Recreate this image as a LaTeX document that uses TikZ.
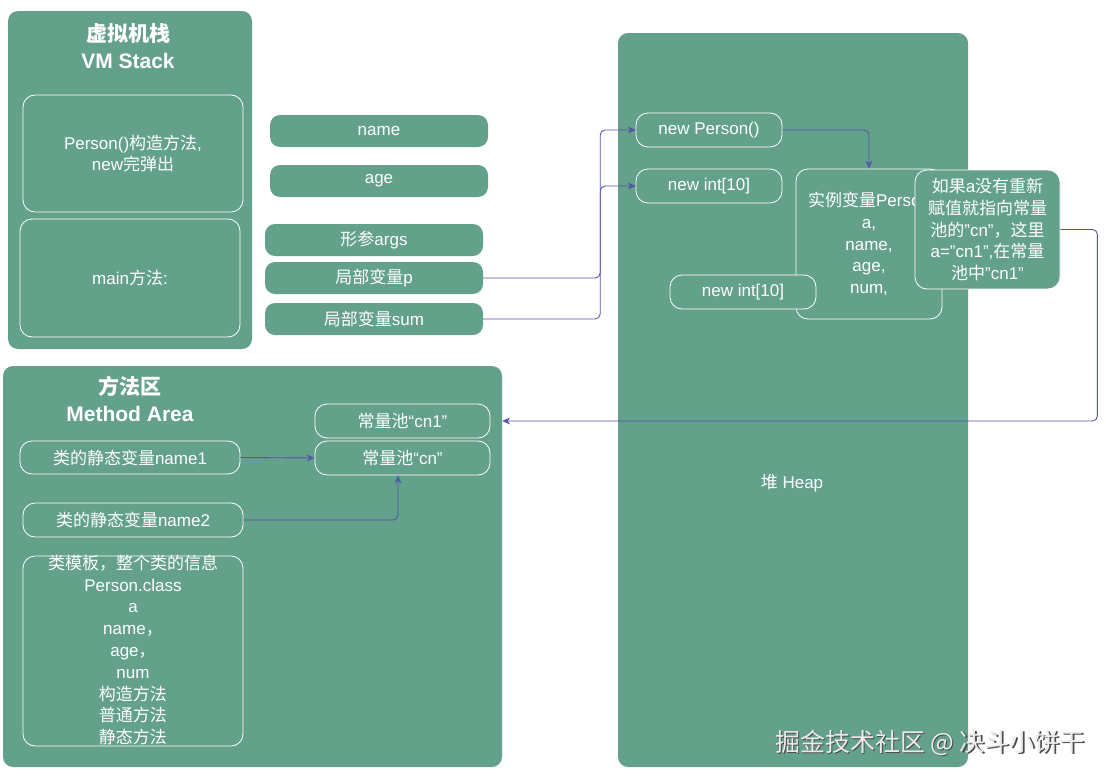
\documentclass[tikz,border=0pt]{standalone}
\usepackage{fontspec}
\setmainfont{Liberation Sans}
\newfontfamily\cjk{Noto Sans CJK SC}
\newcommand\zhs[1]{{\cjk #1}}
\usetikzlibrary{arrows.meta}
\definecolor{jvgreen}{RGB}{99,161,138}
\definecolor{jvarrow}{RGB}{84,84,170}
\tikzset{
  area/.style={fill=jvgreen, draw=none, rounded corners=10pt, inner sep=0pt},
  pill/.style={fill=jvgreen, draw=none, rounded corners=10pt, text=white, inner sep=0pt,
    font=\fontsize{17}{21.8}\selectfont},
  obox/.style={fill=jvgreen, draw=white, line width=0.8pt, rounded corners=12pt, text=white,
    inner sep=0pt, align=center, font=\fontsize{17}{21.8}\selectfont},
  title/.style={text=white, font=\fontsize{21}{27}\selectfont\bfseries, align=center},
  link/.style={draw=jvarrow, line width=0.9pt, rounded corners=5pt,
    -{Stealth[length=8pt,width=7pt]}}
}
\begin{document}
\begin{tikzpicture}[x=1pt,y=-1pt]
\useasboundingbox (0,0) rectangle (1106,779);
% VM stack
\node[area, minimum width=244pt, minimum height=338pt] (vm) at (130,180) {};
\node[title] (vmt) at (128,46) {\zhs{虚拟机栈}\\VM Stack};
\node[obox, minimum width=220pt, minimum height=117pt] (f1) at (133,153.5) {Person()\zhs{构造方法},\\new\zhs{完弹出}};
\node[obox, minimum width=220pt, minimum height=118pt] (f2) at (130,278) {main\zhs{方法}:};
% pills
\node[pill, minimum width=218pt, minimum height=32pt] (name) at (379,131) {name};
\node[pill, minimum width=218pt, minimum height=32pt] (age) at (379,181) {age};
\node[pill, minimum width=218pt, minimum height=32pt] (args) at (374,240) {\zhs{形参}args};
\node[pill, minimum width=218pt, minimum height=32pt] (p) at (374,278) {\zhs{局部变量}p};
\node[pill, minimum width=218pt, minimum height=32pt] (sum) at (374,319) {\zhs{局部变量}sum};
% Heap
\node[area, minimum width=350pt, minimum height=734pt] (heap) at (793,400) {};
\node[text=white, font=\fontsize{17}{21.8}\selectfont] (heapt) at (792,483) {\zhs{堆} Heap};
\node[obox, minimum width=146pt, minimum height=34pt] (newP) at (709,130) {new Person()};
\node[obox, minimum width=146pt, minimum height=34pt] (newI1) at (709,186) {new int[10]};
\node[obox, minimum width=146pt, minimum height=150pt] (inst) at (869,244) {\zhs{实例变量}Person\\a,\\name,\\age,\\num,};
\node[obox, minimum width=145pt, minimum height=119pt] (call) at (987.5,229.5) {\zhs{如果}a\zhs{没有重新}\\\zhs{赋值就指向常量}\\\zhs{池的}"cn"\zhs{，这里}\\a="cn1",\zhs{在常量}\\\zhs{池中}"cn1"};
\node[obox, minimum width=146pt, minimum height=34pt] (newI2) at (743,292) {new int[10]};
% Method area
\node[area, minimum width=499pt, minimum height=401pt] (ma) at (252.5,566.5) {};
\node[title] (mat) at (130,399) {\zhs{方法区}\\Method Area};
\node[obox, minimum width=175pt, minimum height=34pt] (cn1) at (402.5,421) {\zhs{常量池}“cn1”};
\node[obox, minimum width=175pt, minimum height=34pt] (cn) at (402.5,458) {\zhs{常量池}“cn”};
\node[obox, minimum width=220pt, minimum height=33pt] (s1) at (130,457.5) {\zhs{类的静态变量}name1};
\node[obox, minimum width=220pt, minimum height=34pt] (s2) at (133,520) {\zhs{类的静态变量}name2};
\node[obox, minimum width=220pt, minimum height=190pt] (cls) at (133,651) {};
\node[text=white, align=center, font=\fontsize{17}{21.8}\selectfont, inner sep=0pt] (clst) at (133,650) {\zhs{类模板，整个类的信息}\\Person.class\\a\\name\zhs{，}\\age\zhs{，}\\num\\\zhs{构造方法}\\\zhs{普通方法}\\\zhs{静态方法}};
% connectors
\draw[link] (p.east) -- ++(117,0) |- (newP.west);
\draw[link] (sum.east) -- ++(117,0) |- (newI1.west);
\draw[link] (newP.east) -| (inst.north);
\draw[link] (call.east) -- ++(37,0) |- (ma.east |- cn1.east);
\draw[link] (s1.east) -- (cn.west);
\draw[link] (s2.east) -| ([xshift=-4.5pt]cn.south);
% watermark
\node[text=black!70, font=\fontsize{25}{30}\selectfont\cjk] (wms) at (931.2,744.2) {掘金技术社区 @ 决斗小饼干};
\node[text=white!92!black, font=\fontsize{25}{30}\selectfont\cjk] (wm) at (930,743) {掘金技术社区 @ 决斗小饼干};
\end{tikzpicture}
\end{document}
